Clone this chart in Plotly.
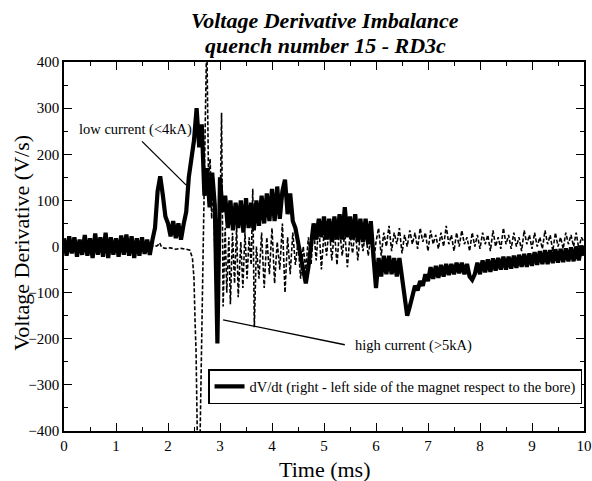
import plotly.graph_objects as go

# ---- data ----
# low current (solid) trace, sampled every 0.05 ms from 0 to 10 ms
solid_step = 0.05
solid_v = [
    18, -20, 22, -15, 20, -22, 15, -18, 25, -20, 18, -25, 28, -18, 20, -22, 30, -25, 20, -18,
    18, -22, 24, -18, 26, -20, 22, -25, 18, -20, 20, -16, 15, -18, 14, 40, 120, 152, 112, 65,
    50, 22, 55, 18, 50, 15, 48, 75, 150, 185, 230, 300, 215, 265, 110, 170, 85, 160, 90, -210,
    150, 75, 110, 40, 100, 35, 95, 40, 100, 30, 105, 40, 95, 35, 100, 45, 110, 50, 115, 55,
    125, 55, 130, 60, 120, 145, 70, 115, 55, 40, 10, -20, -55, -80, -45, 10, 50, 15, 60, 20,
    65, 15, 60, 10, 65, 15, 70, 15, 85, 20, 65, 15, 70, 10, 60, 10, 60, 5, 55, -20,
    -90, -25, -65, -20, -60, -20, -60, -25, -65, -25, -65, -100, -150, -130, -110, -85, -95, -75, -85, -60,
    -75, -45, -70, -42, -68, -40, -65, -38, -62, -38, -60, -35, -58, -35, -60, -38, -65, -72, -60, -35,
    -60, -30, -56, -28, -55, -26, -52, -25, -50, -22, -50, -22, -48, -20, -46, -18, -44, -16, -44, -15,
    -42, -12, -40, -10, -38, -8, -38, -8, -36, -6, -35, -5, -34, -4, -32, -2, -32, 0, -30, 2,
    -20,
]
solid_t = [round(i * solid_step, 2) for i in range(len(solid_v))]

# high current (dashed) trace: irregular samples up to 3.70 ms ...
dash_t_head = [0.0, 0.1, 0.2, 0.3, 0.4, 0.5, 0.6, 0.7, 0.8, 0.9, 1.0, 1.1, 1.2, 1.3, 1.4, 1.5, 1.6, 1.7,
               1.75, 1.80, 1.84, 1.88, 1.95, 2.05, 2.15, 2.25, 2.35, 2.42, 2.47, 2.50, 2.52, 2.54,
               2.57, 2.61, 2.745, 2.78, 2.81, 2.84, 2.87, 2.91, 2.94, 2.98, 3.03, 3.06, 3.10, 3.13,
               3.17, 3.20, 3.24, 3.28, 3.32, 3.35, 3.40, 3.44, 3.48, 3.52, 3.56, 3.60, 3.63, 3.66, 3.70]
dash_v_head = [0, 3, -4, 2, -3, 4, -2, 3, -4, 1, -3, 4, -2, 3, -3, 2, -4, 1,
               0, 2, 8, -2, -4, -3, -6, -4, -6, -8, -25, -70, -160, -230,
               -460, -460, 460, 140, 190, 60, 150, -60, 60, -90, 290, -130, 40, -100,
               20, -125, 30, -80, 45, -110, 10, -90, 30, -70, 20, -40, 125, -175, 0]
# ... then every 0.05 ms from 3.75 to 10 ms
dash_tail_start = 3.75
dash_tail_step = 0.05
dash_v_tail = [
    -70, 30, -90, 20, -60,
    40, -80, 10, -50, 50, -100, 20, -60, 30, -40, 10, -70, 0, -50, 20, -40, 40, -30, 50, -50,
    30, -20, 45, -30, 35, -40, 40, -20, 30, -45, 25, -15, 40, -30, 30, -10, 35, -20, 20, -40,
    10, 40, -20, 30, 0, 45, -10, 30, 5, 40, -15, 25, 0, 35, 5, 30, -5, 40, 10, 30,
    -10, 35, 5, 25, -5, 30, 0, 45, 5, 25, -10, 30, 0, 35, 5, 20, -10, 30, 0, 25,
    -5, 30, 5, 25, -10, 35, 0, 20, -5, 40, 5, 25, -5, 30, 0, 20, -10, 35, 5, 25,
    -5, 30, 0, 20, -5, 35, 5, 25, -10, 30, 0, 20, -5, 30, 5, 25, 0, 30, -5, 20,
    10,
]
dash_t_tail = [round(dash_tail_start + i * dash_tail_step, 2) for i in range(len(dash_v_tail))]
dash_t = dash_t_head + dash_t_tail
dash_v = dash_v_head + dash_v_tail

legend_label = "dV/dt (right - left side of the magnet respect to the bore)"
title_lines = ["Voltage Derivative Imbalance", "quench number 15 - RD3c"]
x_ticks = list(range(0, 11))
y_ticks = list(range(-400, 401, 100))

FONT = "Liberation Serif"
PLOT_H = 368
PLOT_W = 520

fig = go.Figure()
fig.add_trace(go.Scatter(x=solid_t, y=solid_v, mode="lines", name=legend_label,
                         line=dict(color="black", width=4.2)))
fig.add_trace(go.Scatter(x=dash_t, y=dash_v, mode="lines", showlegend=False,
                         line=dict(color="black", width=1.6, dash="4px,2px")))

axis_common = dict(showline=True, linecolor="black", linewidth=1.5, mirror="ticks",
                   ticks="inside", ticklen=8, tickwidth=1.3, tickcolor="black", automargin=False,
                   showgrid=False, zeroline=False,
                   tickfont=dict(size=15, family=FONT, color="black"))

fig.update_xaxes(range=[0, 10], tickvals=x_ticks,
                 minor=dict(dtick=0.5, ticks="inside", ticklen=4, tickwidth=1.1, tickcolor="black"),
                 **axis_common)
fig.update_yaxes(range=[-400, 400], tickvals=y_ticks,
                 minor=dict(dtick=50, ticks="inside", ticklen=4, tickwidth=1.1, tickcolor="black"),
                 **axis_common)

fig.update_layout(
    width=592, height=481,
    margin=dict(l=64, r=8, t=62, b=50),
    paper_bgcolor="white", plot_bgcolor="white",
    font=dict(family=FONT, color="black", size=15),
    legend=dict(x=0.277, y=0.168, xanchor="left", yanchor="top",
                bordercolor="black", borderwidth=1.5, bgcolor="white",
                font=dict(size=14.5, family=FONT), itemwidth=30),
    annotations=[
        dict(text="<b><i>%s</i></b>" % title_lines[0], xref="paper", yref="paper",
             x=0.502, y=1 + (62 - 21) / PLOT_H, xanchor="center", yanchor="middle",
             showarrow=False, font=dict(size=22, family=FONT)),
        dict(text="<b><i>%s</i></b>" % title_lines[1], xref="paper", yref="paper",
             x=0.502, y=1 + (62 - 46) / PLOT_H, xanchor="center", yanchor="middle",
             showarrow=False, font=dict(size=22, family=FONT)),
        dict(text="Time (ms)", xref="paper", yref="paper", x=0.5, y=-(468 - 430) / PLOT_H,
             xanchor="center", yanchor="middle", showarrow=False, font=dict(size=22, family=FONT)),
        dict(text="Voltage Derivative (V/s)", xref="paper", yref="paper", x=-(64 - 22) / PLOT_W, y=0.51,
             xanchor="center", yanchor="middle", textangle=-90, showarrow=False,
             font=dict(size=22, family=FONT)),
        dict(text="low current (<4kA)", xref="x", yref="y", x=0.25, y=254,
             xanchor="left", yanchor="middle", showarrow=False, font=dict(size=14.5, family=FONT)),
        dict(text="high current (>5kA)", xref="x", yref="y", x=5.56, y=-215,
             xanchor="left", yanchor="middle", showarrow=False, font=dict(size=14.5, family=FONT)),
    ],
    shapes=[
        dict(type="line", xref="x", yref="y", x0=1.5, y0=228, x1=2.35, y1=133,
             line=dict(color="black", width=1.3)),
        dict(type="line", xref="x", yref="y", x0=3.06, y0=-159, x1=5.40, y1=-213,
             line=dict(color="black", width=1.3)),
    ],
)

fig.write_html("out.html")
